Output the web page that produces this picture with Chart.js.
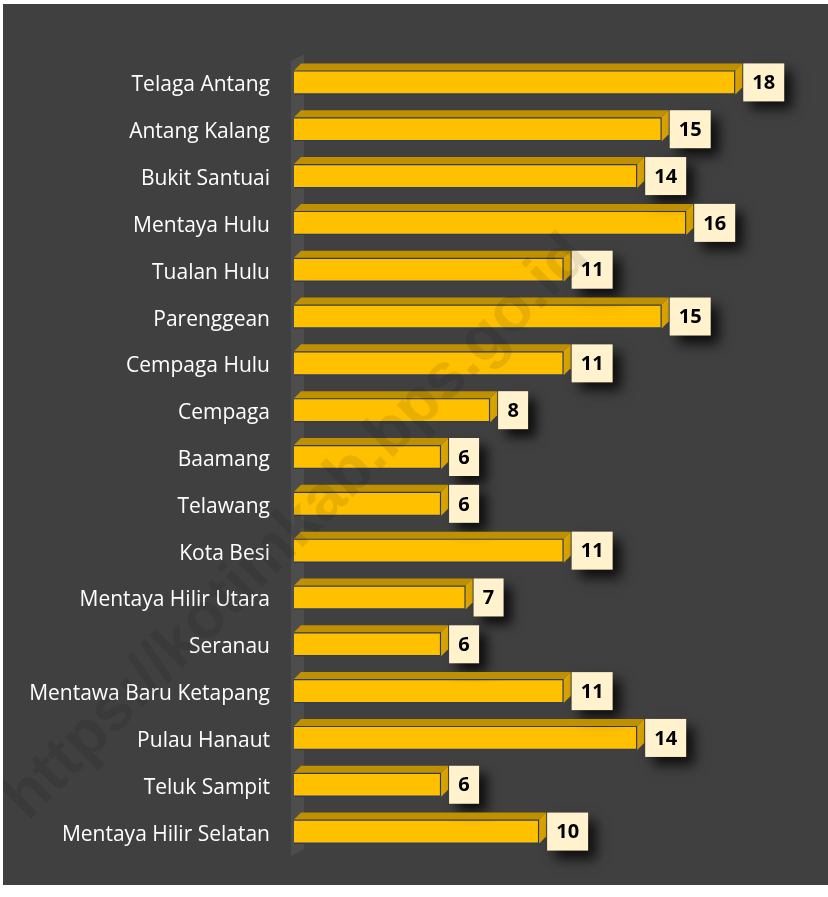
<!DOCTYPE html>
<html>
<head>
<meta charset="utf-8">
<script src="https://cdn.jsdelivr.net/npm/chart.js@4"></script>
<style>
  body { margin: 0; background: #ffffff; }
  #box { position: absolute; left: 3px; top: 4px; width: 825px; height: 881px; background: #404040; }
</style>
</head>
<body>
<div id="box"><canvas id="chart" width="825" height="881"></canvas></div>
<script>
// kecamatan dan nilai
var kecamatan = ['Telaga Antang', 'Antang Kalang', 'Bukit Santuai', 'Mentaya Hulu', 'Tualan Hulu', 'Parenggean',
    'Cempaga Hulu', 'Cempaga', 'Baamang', 'Telawang', 'Kota Besi', 'Mentaya Hilir Utara', 'Seranau',
    'Mentawa Baru Ketapang', 'Pulau Hanaut', 'Teluk Sampit', 'Mentaya Hilir Selatan'];
var jumlah = [18, 15, 14, 16, 11, 15, 11, 8, 6, 6, 11, 7, 6, 11, 14, 6, 10];

var D = 7; // kedalaman efek 3D

var efek3d = {
    id: 'efek3d',
    beforeDatasetsDraw: function (chart) {
        var ctx = chart.ctx, a = chart.chartArea;
        // dinding samping
        ctx.save();
        ctx.fillStyle = 'rgba(255,255,255,0.07)';
        ctx.beginPath();
        ctx.moveTo(a.left - 3, a.top + 2);
        ctx.lineTo(a.left + 10, a.top - 5);
        ctx.lineTo(a.left + 10, a.bottom - 6);
        ctx.lineTo(a.left - 3, a.bottom + 1);
        ctx.closePath();
        ctx.fill();
        ctx.restore();
    },
    afterDatasetsDraw: function (chart) {
        var ctx = chart.ctx;
        var meta = chart.getDatasetMeta(0);
        meta.data.forEach(function (bar, i) {
            var p = bar.getProps(['x', 'y', 'base', 'height'], true);
            var top = p.y - p.height / 2, bottom = p.y + p.height / 2;
            ctx.save();
            // sisi atas
            ctx.fillStyle = '#bf9000';
            ctx.beginPath();
            ctx.moveTo(p.base, top);
            ctx.lineTo(p.base + D, top - D);
            ctx.lineTo(p.x + D, top - D);
            ctx.lineTo(p.x, top);
            ctx.closePath();
            ctx.fill();
            // sisi kanan
            ctx.fillStyle = '#d9a300';
            ctx.beginPath();
            ctx.moveTo(p.x, top);
            ctx.lineTo(p.x + D, top - D);
            ctx.lineTo(p.x + D, bottom - D);
            ctx.lineTo(p.x, bottom);
            ctx.closePath();
            ctx.fill();
            ctx.restore();

            // kotak label
            var txt = String(jumlah[i]);
            var w = txt.length > 1 ? 41 : 30, h = 38;
            var bx = p.x + D + 1, by = p.y - h / 2;
            ctx.save();
            ctx.shadowColor = 'rgba(0,0,0,0.8)';
            ctx.shadowBlur = 12;
            ctx.shadowOffsetX = 8;
            ctx.shadowOffsetY = 8;
            ctx.fillStyle = '#fff2cc';
            ctx.fillRect(bx, by, w, h);
            ctx.restore();
            ctx.save();
            ctx.fillStyle = '#000000';
            ctx.font = 'bold 20px "Open Sans"';
            ctx.textAlign = 'center';
            ctx.textBaseline = 'middle';
            ctx.fillText(txt, bx + w / 2, p.y + 1);
            ctx.restore();
        });
    },
    afterDraw: function (chart) {
        var ctx = chart.ctx;
        ctx.save();
        ctx.translate(294, 524);
        ctx.rotate(-Math.PI / 4);
        ctx.font = 'bold 64px "Liberation Sans"';
        ctx.fillStyle = 'rgba(0,0,0,0.09)';
        ctx.textAlign = 'center';
        ctx.textBaseline = 'middle';
        ctx.fillText('https://kotimkab.bps.go.id', 0, 0);
        ctx.restore();
    }
};

var ctx = document.getElementById('chart').getContext('2d');
var grafik = new Chart(ctx, {
    type: 'bar',
    data: {
        labels: kecamatan,
        datasets: [{
            data: jumlah,
            backgroundColor: '#ffc000',
            borderColor: '#2f3d5c',
            borderWidth: 1.5,
            barThickness: 24
        }]
    },
    options: {
        indexAxis: 'y',
        responsive: false,
        animation: false,
        events: [],
        layout: { padding: { top: 55, bottom: 30, right: 18, left: 0 } },
        plugins: { legend: { display: false }, tooltip: { enabled: false } },
        scales: {
            x: { display: false, min: 0, max: 21.05 },
            y: {
                grid: { display: false, drawTicks: false },
                border: { display: false },
                ticks: { color: '#ffffff', font: { family: 'Open Sans', size: 21 }, padding: 24, labelOffset: 3 },
                afterFit: function (scale) {
                    scale.width = 291;
                    scale.paddingTop = 0;
                    scale.paddingBottom = 0;
                }
            }
        }
    },
    plugins: [efek3d]
});
</script>
</body>
</html>
